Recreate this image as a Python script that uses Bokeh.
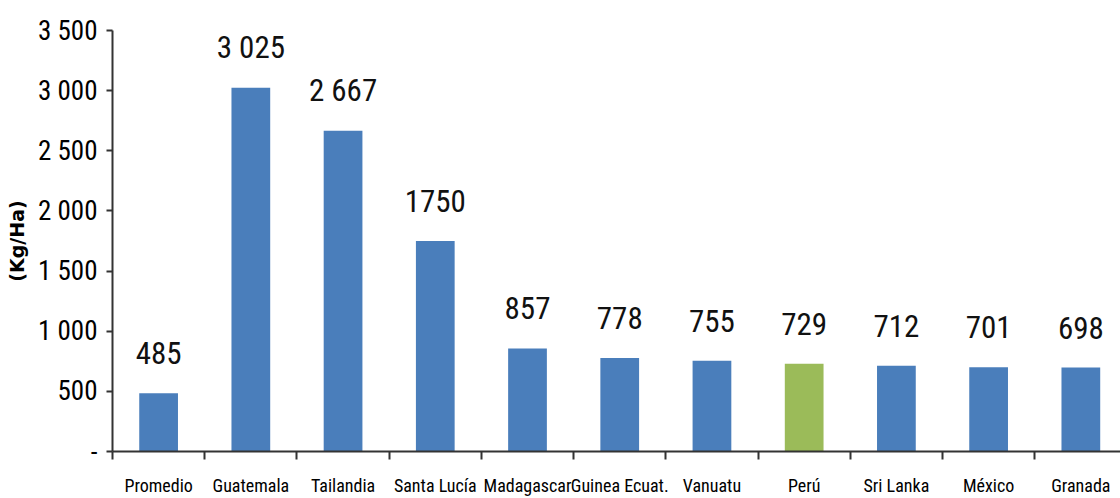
from bokeh.plotting import figure
from bokeh.models import Range1d, FixedTicker, ColumnDataSource
from bokeh.core.properties import value
from bokeh.embed import file_html
from bokeh.resources import INLINE

# ---- data ----
countries = ["Promedio", "Guatemala", "Tailandia", "Santa Lucía", "Madagascar",
             "Guinea Ecuat.", "Vanuatu", "Perú", "Sri Lanka", "México", "Granada"]
yields = [485, 3025, 2667, 1750, 857, 778, 755, 729, 712, 701, 698]
value_labels = ["485", "3 025", "2 667", "1750", "857", "778", "755", "729", "712", "701", "698"]
highlight = "Perú"
y_ticks = [0, 500, 1000, 1500, 2000, 2500, 3000, 3500]
y_tick_labels = ["-", "500", "1 000", "1 500", "2 000", "2 500", "3 000", "3 500"]
y_title = "(Kg/Ha)"

NARROW = "Roboto Condensed"
BLUE = "#4A7EBB"
GREEN = "#9BBB59"

xs = list(range(len(countries)))
colors = [GREEN if c == highlight else BLUE for c in countries]
src = ColumnDataSource(dict(x=xs, top=yields, color=colors, label=value_labels))

p = figure(frame_width=1008, frame_height=421, output_backend="svg", toolbar_location=None,
           x_range=Range1d(-0.5, len(countries) - 0.57), y_range=Range1d(0, 3500),
           min_border_left=112, min_border_right=0, min_border_top=30, min_border_bottom=46)
p.outline_line_color = None
p.xgrid.visible = False
p.ygrid.visible = False
p.background_fill_color = "white"

p.vbar(x="x", top="top", width=0.42, source=src, fill_color="color", line_color=None)

p.text(x="x", y="top", text="label", source=src, text_align="center",
       text_baseline="alphabetic", y_offset=-40, text_font=value(NARROW),
       text_font_size=value("31px"), text_color="#111111")

# y axis
ya = p.yaxis[0]
ya.ticker = FixedTicker(ticks=y_ticks, minor_ticks=[])
ya.major_label_overrides = {t: l for t, l in zip(y_ticks, y_tick_labels)}
ya.major_label_text_font = NARROW
ya.major_label_text_font_size = "27px"
ya.major_label_text_color = "black"
ya.major_tick_out = 6
ya.major_tick_in = 0
ya.major_label_standoff = 9
ya.axis_line_width = 2
ya.axis_line_color = "#333333"
ya.major_tick_line_width = 2
ya.major_tick_line_color = "#333333"
ya.axis_label = y_title
ya.axis_label_text_font = "DejaVu Sans"
ya.axis_label_text_font_style = "bold"
ya.axis_label_text_font_size = "19px"
ya.axis_label_text_color = "black"
ya.axis_label_standoff = 7

# x axis
xa = p.xaxis[0]
xa.ticker = FixedTicker(ticks=xs, minor_ticks=[i - 0.5 for i in range(len(countries) + 1)])
xa.major_label_overrides = {i: c for i, c in zip(xs, countries)}
xa.major_label_text_font = NARROW
xa.major_label_text_font_size = "18px"
xa.major_label_text_color = "black"
xa.major_tick_out = 0
xa.major_tick_in = 0
xa.minor_tick_out = 8
xa.minor_tick_in = 0
xa.minor_tick_line_width = 2
xa.minor_tick_line_color = "#333333"
xa.major_label_standoff = 15
xa.axis_line_width = 2
xa.axis_line_color = "#333333"

open("out.html", "w").write(file_html(p, INLINE))
